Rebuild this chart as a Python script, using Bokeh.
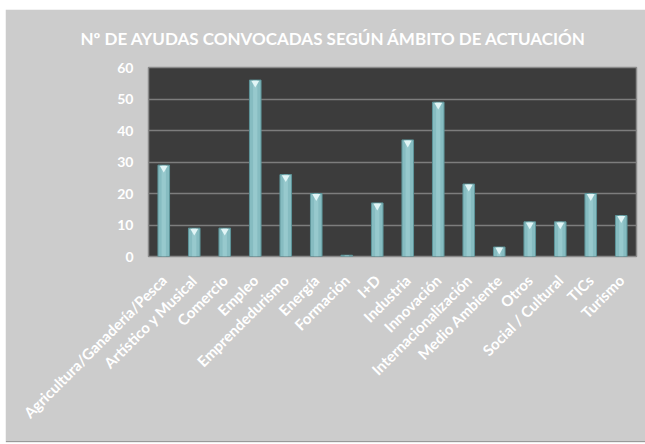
import math
from bokeh.plotting import figure
from bokeh.models import ColumnDataSource, FactorRange, Range1d, Title
from bokeh.transform import dodge
from bokeh.embed import file_html
from bokeh.resources import INLINE

title_text = "Nº DE AYUDAS CONVOCADAS SEGÚN ÁMBITO DE ACTUACIÓN"
categories = ["Agricultura/Ganadería/Pesca", "Artístico y Musical", "Comercio", "Empleo",
              "Emprendedurismo", "Energía", "Formación", "I+D", "Industria", "Innovación",
              "Internacionalización", "Medio Ambiente", "Otros", "Social / Cultural", "TICs", "Turismo"]
values = [29, 9, 9, 56, 26, 20, 0.4, 17, 37, 49, 23, 3, 11, 11, 20, 13]
y_ticks = [0, 10, 20, 30, 40, 50, 60]

FONT = "Lato"

src = ColumnDataSource(dict(cat=categories, val=values))
tri = ColumnDataSource(dict(cat=[c for c, v in zip(categories, values) if v >= 1],
                            val=[v for v in values if v >= 1]))

p = figure(width=640, height=432, output_backend="svg", toolbar_location=None,
           x_range=FactorRange(*categories, range_padding=0), y_range=Range1d(0, 60),
           min_border_left=143, min_border_right=9, min_border_top=58, min_border_bottom=185,
           styles={"margin-top": "9px", "margin-left": "5px",
                   "box-shadow": "1px 1px 1px #9a9a9a"})
p.title = None
t = Title(text=title_text, align="left", offset=-68, text_color="white",
          text_font=FONT, text_font_size="17px", text_font_style="bold", standoff=34,
          vertical_align="top")
p.add_layout(t, "above")

p.background_fill_color = "#3c3c3c"
p.border_fill_color = "#cccccc"
p.outline_line_color = "#8a8a8a"
p.outline_line_width = 1.5

p.vbar(x="cat", top="val", width=0.38, source=src, fill_color="#86bcc1",
       line_color="#5d9499", line_width=1)
p.vbar(x="cat", top="val", width=0.14, source=src, fill_color="#a3d2d6",
       line_color=None, fill_alpha=0.6)
p.scatter(x="cat", y=dodge("val", -0.9, range=p.y_range), source=tri, marker="inverted_triangle",
          size=8, fill_color="#e2f5f6", line_color=None)

p.xgrid.grid_line_color = None
p.ygrid.grid_line_color = "#7d7d7d"
p.ygrid.grid_line_width = 1.3

p.yaxis.ticker = y_ticks
p.yaxis.axis_line_color = None
p.yaxis.major_tick_line_color = None
p.yaxis.minor_tick_line_color = None
p.yaxis.major_label_text_color = "white"
p.yaxis.major_label_text_font = FONT
p.yaxis.major_label_text_font_style = "bold"
p.yaxis.major_label_text_font_size = "14px"
p.yaxis.major_label_standoff = 9

p.xaxis.axis_line_color = None
p.xaxis.major_tick_line_color = None
p.xaxis.minor_tick_line_color = None
p.xaxis.major_label_orientation = math.pi / 4
p.xaxis.major_label_text_color = "white"
p.xaxis.major_label_text_font = FONT
p.xaxis.major_label_text_font_style = "bold"
p.xaxis.major_label_text_font_size = "15px"
p.xaxis.major_label_standoff = 15

open("out.html", "w").write(file_html(p, INLINE))
